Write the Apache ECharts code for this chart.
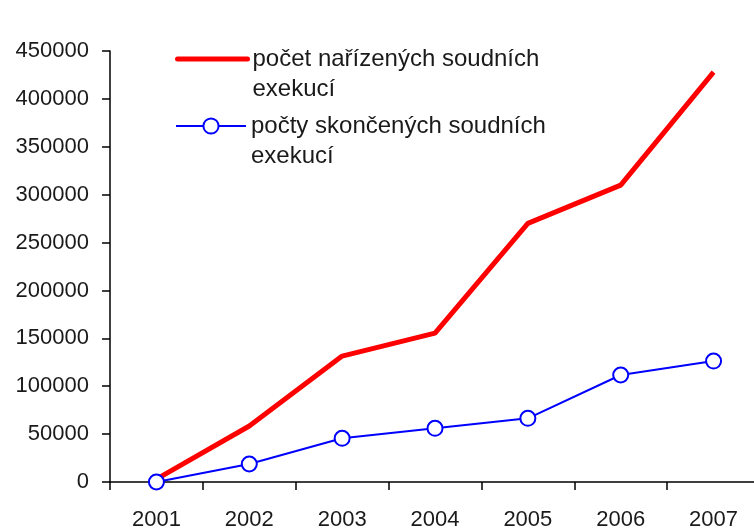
<!DOCTYPE html>
<html><head><meta charset="utf-8">
<script src="https://cdn.jsdelivr.net/npm/echarts@6/dist/echarts.min.js"></script>
<style>html,body{margin:0;padding:0;background:#fff}#c{width:754px;height:529px}</style>
</head><body><div id="c"></div>
<script>
const years = ['2001','2002','2003','2004','2005','2006','2007'];
const ordered = [3000, 58500, 131500, 155500, 270000, 310000, 428000];
const finished = [0, 18800, 45600, 56000, 66500, 111700, 126300];
const seriesNames = ['počet nařízených soudních\nexekucí', 'počty skončených soudních\nexekucí'];
const yTicks = {min: 0, max: 450000, interval: 50000};

const font = 'Liberation Sans, Arial, sans-serif';
const legendText = {fontFamily: font, fontSize: 24, color: '#1a1a1a', lineHeight: 30};
const legendBase = {
  orient: 'vertical', left: 175, padding: 0,
  itemWidth: 70, itemHeight: 19, itemGap: 0,
  formatter: n => ' \n' + n,
  textStyle: legendText
};
const chart = echarts.init(document.getElementById('c'));
chart.setOption({
  animation: false,
  backgroundColor: '#fff',
  grid: {left: 110, top: 51, bottom: 47, right: -6, containLabel: false, outerBoundsMode: 'none'},
  legend: [
    Object.assign({}, legendBase, {top: 14, data: [{name: seriesNames[0], itemStyle: {opacity: 0}, lineStyle: {width: 5, color: '#ff0000', cap: 'round'}}]}),
    Object.assign({}, legendBase, {top: 81, data: [{name: seriesNames[1], lineStyle: {width: 2, color: '#0000ff'}}]})
  ],
  xAxis: {
    type: 'category', data: years, boundaryGap: true,
    axisLine: {lineStyle: {color: '#000', width: 1.5}},
    axisTick: {show: true, length: 8, lineStyle: {color: '#000', width: 1.5}},
    axisLabel: {fontFamily: font, fontSize: 22, color: '#1a1a1a', margin: 27}
  },
  yAxis: {
    type: 'value', min: yTicks.min, max: yTicks.max, interval: yTicks.interval,
    splitLine: {show: false},
    axisLine: {show: true, lineStyle: {color: '#000', width: 1.5}},
    axisTick: {show: true, length: 8, lineStyle: {color: '#000', width: 1.5}},
    axisLabel: {fontFamily: font, fontSize: 22, color: '#1a1a1a', margin: 21, formatter: v => String(v)}
  },
  series: [
    {name: seriesNames[0], type: 'line', data: ordered, symbol: 'none',
     lineStyle: {color: '#ff0000', width: 5}, itemStyle: {color: '#ff0000'}, z: 2},
    {name: seriesNames[1], type: 'line', data: finished, symbol: 'circle', symbolSize: 15,
     lineStyle: {color: '#0000ff', width: 2}, itemStyle: {color: '#fff', borderColor: '#0000ff', borderWidth: 2}, z: 3}
  ]
});
</script></body></html>
